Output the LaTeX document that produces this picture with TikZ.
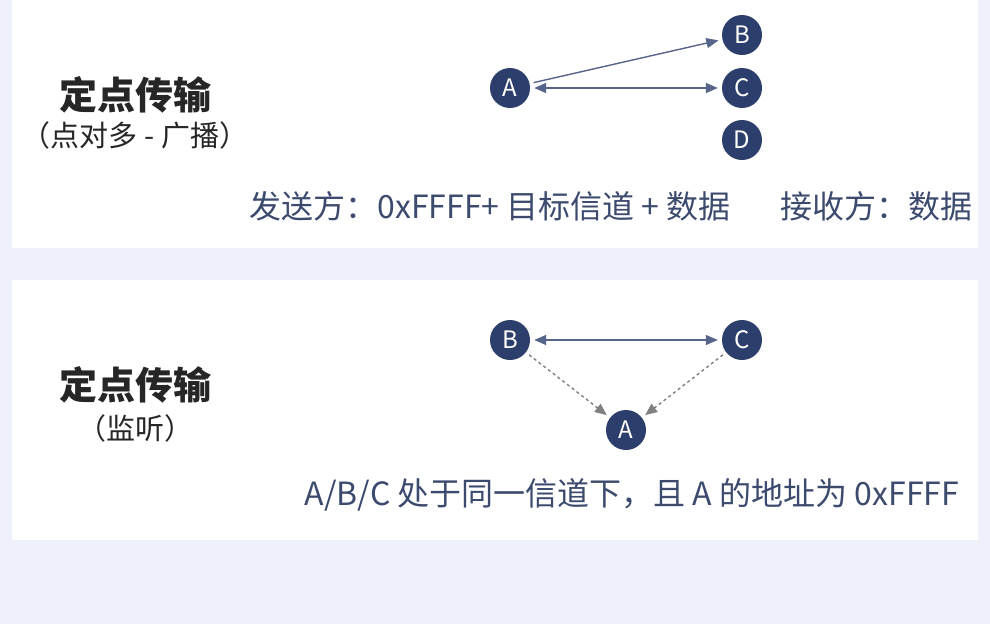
\documentclass[tikz,border=0pt]{standalone}
\usepackage{fontspec}
\setmainfont{Noto Sans CJK SC}
\usetikzlibrary{arrows.meta}
\definecolor{navy}{RGB}{44,62,107}
\definecolor{bgblue}{RGB}{238,241,249}
\definecolor{desc}{RGB}{60,74,110}
\tikzset{
  dot/.style={circle,fill=navy,text=white,minimum size=40pt,inner sep=0pt,font=\fontsize{24}{24}\selectfont},
  link/.style={draw=navy!80,line width=1.4pt,shorten <=4pt,shorten >=4pt,-{Triangle[length=12pt,width=10pt]}},
  title/.style={text=black!85,font=\fontsize{38}{38}\selectfont\bfseries},
  sub/.style={text=black!85,font=\fontsize{29}{29}\selectfont},
  note/.style={text=desc,font=\fontsize{32}{32}\selectfont}
}
\begin{document}
\begin{tikzpicture}[x=1pt,y=-1pt]
\fill[bgblue] (0,0) rectangle (990,624);
\useasboundingbox (0,0) rectangle (990,624);
\fill[white] (12,0) rectangle (978,248);
\fill[white] (12,280) rectangle (978,540);

% first card
\node[dot] (a1) at (510,88) {A};
\node[dot] (b1) at (742,35) {B};
\node[dot] (c1) at (742,88) {C};
\node[dot] (d1) at (742,140) {D};
\draw[link] (a1) -- (b1);
\draw[link,{Triangle[length=12pt,width=10pt]}-{Triangle[length=12pt,width=10pt]}] (a1) -- (c1);
\node[title] (t1) at (135,95) {定点传输};
\node[sub] (s1) at (135,135) {（点对多 - 广播）};
\node[note] (n1) at (490,206) {发送方：0xFFFF+ 目标信道 + 数据};
\node[note] (r1) at (876,206) {接收方：数据};

% second card
\node[dot] (b2) at (510,340) {B};
\node[dot] (c2) at (742,340) {C};
\node[dot] (a2) at (626,430) {A};
\draw[link,{Triangle[length=12pt,width=10pt]}-{Triangle[length=12pt,width=10pt]}] (b2) -- (c2);
\draw[link,dashed,draw=gray] (b2) -- (a2);
\draw[link,dashed,draw=gray] (c2) -- (a2);
\node[title] (t2) at (135,385) {定点传输};
\node[sub] (s2) at (135,428) {（监听）};
\node[note] (n2) at (632,495) {A/B/C 处于同一信道下，且 A 的地址为 0xFFFF};
\end{tikzpicture}
\end{document}
